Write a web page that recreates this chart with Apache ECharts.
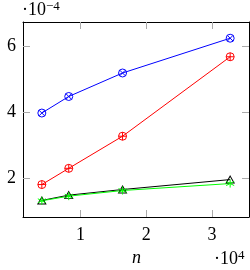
<!DOCTYPE html>
<html><head><meta charset="utf-8">
<script src="https://cdn.jsdelivr.net/npm/echarts@6/dist/echarts.min.js"></script>
<style>html,body{margin:0;padding:0;background:#fff}#c{width:250px;height:270px}</style>
</head><body><div id="c"></div>
<script>
var nValues = [4096, 8192, 16384, 32768];
var blueValues = [3.98e-4, 4.48e-4, 5.19e-4, 6.24e-4];
var redValues = [1.82e-4, 2.31e-4, 3.28e-4, 5.68e-4];
var blackValues = [1.34e-4, 1.50e-4, 1.67e-4, 1.97e-4];
var greenValues = [1.33e-4, 1.47e-4, 1.64e-4, 1.85e-4];
var xTicks = [10000, 20000, 30000];
var yTicks = [2e-4, 4e-4, 6e-4];

var FONT = '"Liberation Serif", "DejaVu Serif", serif';
var chart = echarts.init(document.getElementById('c'), null, {renderer: 'canvas'});
function pts(ys){ return nValues.map(function(x,i){ return [x, ys[i]]; }); }
var otimes = 'path://M0,-1A1,1 0 1,1 0,1A1,1 0 1,1 0,-1ZM-0.707,-0.707L0.707,0.707M-0.707,0.707L0.707,-0.707';
var oplus = 'path://M0,-1A1,1 0 1,1 0,1A1,1 0 1,1 0,-1ZM0,-1L0,1M-1,0L1,0';
var tri = 'path://M0,-1L0.866,0.5L-0.866,0.5Z';
var star = 'path://M0,-1L0,1M-0.866,-0.5L0.866,0.5M-0.866,0.5L0.866,-0.5';
var tickStyle = {show: true, inside: true, length: 7, lineStyle: {color: '#aaaaaa', width: 1}};
var xMin = 1229, xMax = 35635, yMin = 0.84e-4, yMax = 6.73e-4;
function mkX(pos, labels){
  return {type: 'value', position: pos, min: xMin, max: xMax,
    axisLine: {show: true, onZero: false, lineStyle: {color: '#000', width: 1}},
    axisTick: Object.assign({customValues: xTicks}, tickStyle),
    axisLabel: {show: labels, customValues: xTicks, margin: 9, color: '#000', fontFamily: FONT, fontSize: 18,
      formatter: function(v){ return String(Math.round(v/1e4)); }},
    splitLine: {show: false}};
}
function mkY(pos, labels){
  return {type: 'value', position: pos, min: yMin, max: yMax,
    axisLine: {show: true, onZero: false, lineStyle: {color: '#000', width: 1}},
    axisTick: Object.assign({customValues: yTicks}, tickStyle),
    axisLabel: {show: labels, customValues: yTicks, margin: 7, color: '#000', fontFamily: FONT, fontSize: 18,
      formatter: function(v){ return String(Math.round(v/1e-4)); }},
    splitLine: {show: false}};
}
function ser(data, color, sym, size){
  return {type: 'line', data: pts(data), xAxisIndex: 0, yAxisIndex: 0,
    symbol: sym, symbolSize: size, showAllSymbol: true,
    lineStyle: {color: color, width: 1},
    itemStyle: {color: 'rgba(0,0,0,0)', borderColor: color, borderWidth: 1},
    emphasis: {disabled: true}};
}
chart.setOption({
  animation: false,
  grid: {left: 23, right: 1, top: 22, bottom: 53},
  xAxis: [mkX('bottom', true), mkX('top', false)],
  yAxis: [mkY('left', true), mkY('right', false)],
  series: [
    ser(blueValues, '#0000ff', otimes, 8),
    ser(redValues, '#ff0000', oplus, 8),
    ser(blackValues, '#000000', tri, [8, 7]),
    ser(greenValues, '#00ff00', star, [8, 8])
  ],
  graphic: [
    {type: 'text', left: 22, top: 0, style: {
      text: '·10{s|−4}', fontFamily: FONT, fontSize: 18, fill: '#000',
      rich: {s: {fontSize: 13, fontFamily: FONT, verticalAlign: 'top', padding: [0,0,8,0]}}}},
    {type: 'text', left: 132, top: 249, style: {text: 'n', fontFamily: FONT, fontStyle: 'italic', fontSize: 18, fill: '#000'}},
    {type: 'text', left: 214, top: 249, style: {
      text: '·10{s|4}', fontFamily: FONT, fontSize: 18, fill: '#000',
      rich: {s: {fontSize: 13, fontFamily: FONT, padding: [0,0,8,0]}}}}
  ]
});
</script></body></html>
